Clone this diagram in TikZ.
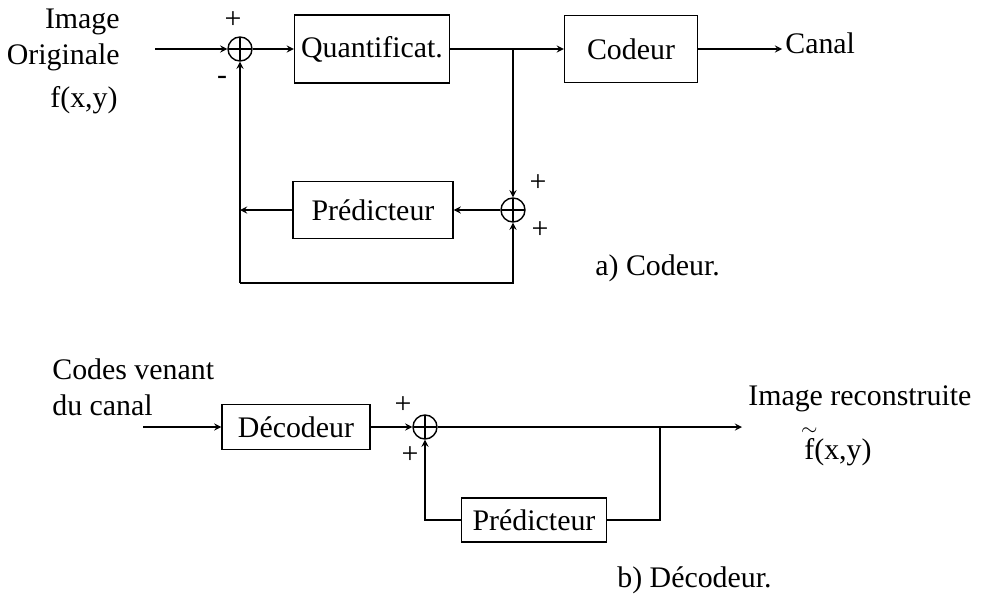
\documentclass[tikz,border=0pt]{standalone}
\usepackage{fontspec}
\setmainfont{Liberation Serif}

\begin{document}
\begin{tikzpicture}[x=0.02cm, y=-0.02cm,
  block/.style={rectangle, draw, thick, font=\fontsize{17}{19}\selectfont, inner sep=2pt},
  sumnode/.style={circle, draw, thick, minimum size=0.48cm, inner sep=0pt,
                  path picture={\draw[thick] (path picture bounding box.north) -- (path picture bounding box.south)
                                (path picture bounding box.west) -- (path picture bounding box.east);}},
  arrow/.style={->, >=stealth, thick},
  wire/.style={thick},
  txt/.style={font=\fontsize{17}{20.5}\selectfont, inner sep=0pt},
  sign/.style={font=\fontsize{17}{19}\selectfont, inner sep=0pt},
]
  \useasboundingbox (0, 0) rectangle (981, 595);

  \node[block, minimum width=3.1cm, minimum height=1.36cm]  (quant)  at (372, 49)   {Quantificat.};
  \node[block, minimum width=2.66cm, minimum height=1.34cm] (codeur) at (631, 49)   {Codeur};
  \node[block, minimum width=3.2cm, minimum height=1.14cm]  (pred)   at (373, 210)  {Prédicteur};
  \node[sumnode] (sum1) at (240, 49) {};
  \node[sumnode] (sum2) at (513, 210) {};
  \coordinate (in1)    at (155, 49);
  \coordinate (out1)   at (782, 49);
  \coordinate (branch) at (513, 49);
  \coordinate (loopr)  at (513, 283);
  \coordinate (loopl)  at (240, 283);

  \node[txt, align=right, anchor=east] (imgin) at (120, 40) {Image\\Originale};
  \node[txt] (fin)   at (84, 100)  {f(x,y)};
  \node[txt, anchor=west] (canal) at (785, 43) {Canal};
  \node[sign] (p1) at (233, 20)  {+};
  \node[sign] (m1) at (222, 80)  {-};
  \node[sign] (p2) at (538, 183) {+};
  \node[sign] (p3) at (540, 230) {+};
  \node[txt, anchor=west] (capa) at (595, 268) {a) Codeur.};

  \draw[arrow] (in1) -- (sum1);
  \draw[arrow] (sum1) -- (quant);
  \draw[arrow] (quant) -- (codeur);
  \draw[arrow] (codeur) -- (out1);
  \draw[arrow] (branch) -- (sum2);
  \draw[arrow] (sum2) -- (pred);
  \draw[arrow] (pred.west) -- (pred.west -| sum1);
  \draw[arrow] (loopl) -- (sum1);
  \draw[arrow] (loopl) -- (loopr) -- (sum2);

  \node[block, minimum width=2.96cm, minimum height=0.9cm]  (decod) at (296, 427) {Décodeur};
  \node[block, minimum width=2.9cm, minimum height=0.88cm]  (pred2) at (534, 520) {Prédicteur};
  \node[sumnode] (sum3) at (425, 427) {};
  \coordinate (in2)     at (143, 427);
  \coordinate (out2)    at (742, 427);
  \coordinate (branch2) at (660, 427);

  \node[txt, align=left, anchor=north west] (codes) at (52, 358) {Codes venant\\du canal};
  \node[txt, anchor=west] (imgout) at (748, 399) {Image reconstruite};
  \node[txt] (fout) at (838, 446) {${\stackrel{\makebox[0pt]{$\scriptstyle\sim$}}{\mbox{f}}}$(x,y)};
  \node[sign] (p4) at (403, 405) {+};
  \node[sign] (p5) at (410, 455) {+};
  \node[txt, anchor=west] (capb) at (617, 580) {b) Décodeur.};

  \draw[arrow] (in2) -- (decod);
  \draw[arrow] (decod) -- (sum3);
  \draw[arrow] (sum3) -- (out2);
  \draw[wire]  (branch2) |- (pred2);
  \draw[arrow] (pred2) -| (sum3);
\end{tikzpicture}
\end{document}
